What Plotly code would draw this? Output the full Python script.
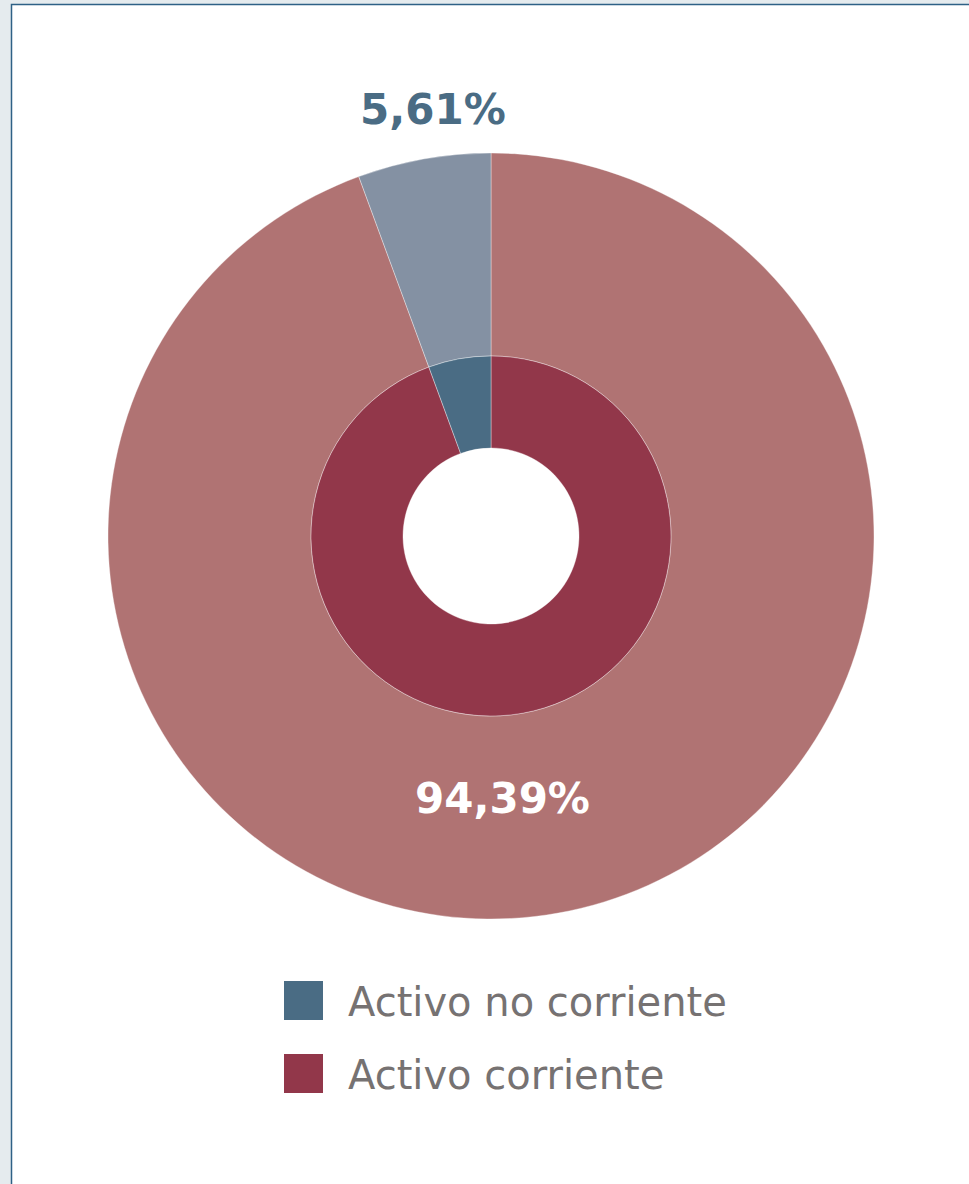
import plotly.graph_objects as go

labels = ["Activo no corriente", "Activo corriente"]
values = [5.61, 94.39]

outer_colors = ["#8491a3", "#b07373"]
inner_colors = ["#4a6c84", "#92374a"]
label_colors = ["#4a6c84", "#ffffff"]

W, H = 969, 1184
cx, cy = 491, 536
R_out, R_mid, R_in = 383, 180, 88

def dom(r):
    return dict(x=[(cx - r) / W, (cx + r) / W], y=[1 - (cy + r) / H, 1 - (cy - r) / H])

fig = go.Figure()
# slices drawn clockwise from 12 o'clock in reverse order so "Activo no corriente" sits just left of the top
fig.add_trace(go.Pie(
    labels=labels[::-1], values=values[::-1], sort=False, direction="clockwise", rotation=0,
    hole=R_mid / R_out, domain=dom(R_out), showlegend=False,
    marker=dict(colors=outer_colors[::-1], line=dict(color="rgba(255,255,255,0.6)", width=0.6)),
    textinfo="none", hoverinfo="label+percent",
))
fig.add_trace(go.Pie(
    labels=labels[::-1], values=values[::-1], sort=False, direction="clockwise", rotation=0,
    hole=R_in / R_mid, domain=dom(R_mid), showlegend=False,
    marker=dict(colors=inner_colors[::-1], line=dict(color="rgba(255,255,255,0.6)", width=0.6)),
    textinfo="none", hoverinfo="label+percent",
))

total = sum(values)
pct_text = [f"{v / total * 100:.2f}%".replace(".", ",") for v in values]
label_pos = [(433, 109), (503, 798)]

shapes = [dict(type="rect", xref="paper", yref="paper",
               x0=11.5 / W, x1=1.02, y0=-0.02, y1=1 - 4.5 / H,
               fillcolor="white", line=dict(color="#2e6186", width=1.5), layer="below")]
annotations = []
for i, t in enumerate(pct_text):
    px, py = label_pos[i]
    annotations.append(dict(text=t, xref="paper", yref="paper", x=px / W, y=1 - py / H,
                            xanchor="center", yanchor="middle", showarrow=False,
                            font=dict(family="DejaVu Sans", size=42, color=label_colors[i], weight="bold")))
leg_y = [1000.5, 1073.5]
for i, lab in enumerate(labels):
    yc = leg_y[i]
    shapes.append(dict(type="rect", xref="paper", yref="paper",
                       x0=284 / W, x1=323 / W, y0=1 - (yc + 19.5) / H, y1=1 - (yc - 19.5) / H,
                       fillcolor=inner_colors[i], line=dict(width=0)))
    annotations.append(dict(text=lab, xref="paper", yref="paper", x=346 / W, y=1 - (yc + 1) / H,
                            xanchor="left", yanchor="middle", showarrow=False,
                            font=dict(family="DejaVu Sans", size=40, color="#767272")))

fig.update_layout(
    width=W, height=H, margin=dict(l=0, r=0, t=0, b=0),
    paper_bgcolor="#e5ebee", plot_bgcolor="white",
    separators=",.", showlegend=False,
    shapes=shapes, annotations=annotations,
)
fig.write_html("out.html", config={"displayModeBar": False},
               post_script="document.body.style.margin='0';document.body.style.background='#e5ebee';")
